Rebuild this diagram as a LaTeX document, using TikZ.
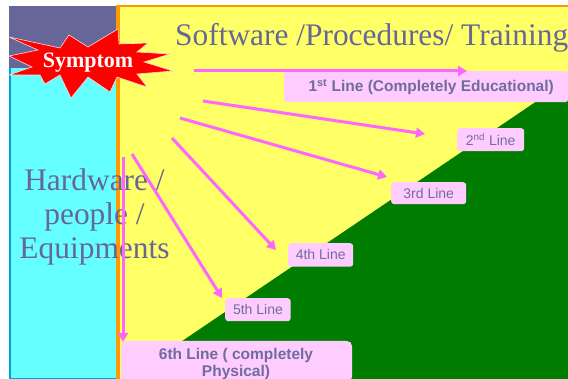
\documentclass[tikz,border=0pt]{standalone}
\usepackage{fontspec}
\setmainfont{Liberation Serif}
\setsansfont{Liberation Sans}
\usetikzlibrary{arrows.meta}
\definecolor{slate}{HTML}{666699}
\definecolor{txtb}{HTML}{706C9C}
\definecolor{pinkbox}{HTML}{FFCCFF}
\definecolor{arrowc}{HTML}{FF66FF}
\definecolor{yel}{HTML}{FFFF66}
\definecolor{cyn}{HTML}{66FFFF}
\definecolor{org}{HTML}{FF9900}
\definecolor{grn}{HTML}{007D00}
\definecolor{blu}{HTML}{00A0DC}
\tikzset{
  x=1pt,y=-1pt,
  linebox/.style={fill=pinkbox,rounded corners=3pt,inner sep=0pt,text=txtb,font=\sffamily\fontsize{14}{15}\selectfont,align=center},
  linearrow/.style={draw=arrowc,line width=3pt,-{Triangle[length=9pt,width=10pt]}},
  bigtext/.style={text=slate,font=\fontsize{31.4}{34}\selectfont,align=center,inner sep=0pt}
}
\begin{document}
\begin{tikzpicture}
\useasboundingbox (0,0) rectangle (568,379);
\fill[white] (0,0) rectangle (568,379);
\fill[yel] (118,6) rectangle (568,379);
\fill[grn] (568,80) -- (568,379) -- (126,379) -- cycle;
\fill[cyn] (9,68) rectangle (117,379);
\fill[slate] (9,6) rectangle (117,68);
\fill[blu] (9,68) rectangle (11,379);
\fill[blu] (9,378) rectangle (120,379);
\fill[org] (116,6) rectangle (120,379);
\fill[org] (116,5.5) rectangle (568,7);
% labels
\node[bigtext,anchor=base west] (title) at (175,46) {Software /Procedures/ Training};
\node[bigtext] (hw) at (94.5,216.5) {Hardware /\\people /\\Equipments};
% boxes
\node[linebox,anchor=north west,minimum width=284pt,minimum height=31pt,font=\sffamily\bfseries\fontsize{15.5}{17}\selectfont] (l1) at (284,71) {\hspace*{10pt}\raisebox{-2pt}{1\textsuperscript{st} Line (Completely Educational)}};
\node[linebox,anchor=north west,minimum width=67pt,minimum height=23pt] (l2) at (457,128) {2\textsuperscript{nd}\ Line};
\node[linebox,anchor=north west,minimum width=75pt,minimum height=22pt] (l3) at (391,182) {3rd Line};
\node[linebox,anchor=north west,minimum width=65pt,minimum height=23.5pt] (l4) at (288,243) {4th Line};
\node[linebox,anchor=north west,minimum width=65.5pt,minimum height=23pt] (l5) at (225,298) {5th Line};
\path[fill=pinkbox,rounded corners=5pt] (121,382) -- (121,341) -- (352,341) -- (352,382) -- cycle;
\node[text=txtb,font=\sffamily\bfseries\fontsize{15.5}{17}\selectfont,align=center,inner sep=0pt] (l6) at (236,364) {6th Line ( completely\\Physical)};
% arrows
\coordinate (s1) at (194,71); \coordinate (e1) at (467,71);
\coordinate (s2) at (203,101); \coordinate (e2) at (425,134);
\coordinate (s3) at (180,118); \coordinate (e3) at (387,177);
\coordinate (s4) at (172,138); \coordinate (e4) at (276,250);
\coordinate (s5) at (132,154); \coordinate (e5) at (222,298);
\coordinate (s6) at (123,157); \coordinate (e6) at (123,342);
\foreach \i in {1,...,6} \draw[linearrow] (s\i) -- (e\i);
% starburst
\draw[fill=red,draw=white!85!red,line width=.6pt]
 (9,37) -- (60,48) -- (69,35) -- (88,47) -- (118,29) -- (119,44) -- (148,43) -- (137,52) -- (170,54) -- (144,62) -- (173,71) -- (137,74) -- (147,87) -- (117,77) -- (110,92) -- (88,77) -- (71,98) -- (60,75) -- (45,84) -- (40,75) -- (9,75) -- (32,67) -- (9,56) -- (38,50) -- cycle;
\node[text=white,font=\bfseries\fontsize{22}{24}\selectfont,inner sep=0pt] (sym) at (88,62.5) {Symptom};
\end{tikzpicture}
\end{document}
